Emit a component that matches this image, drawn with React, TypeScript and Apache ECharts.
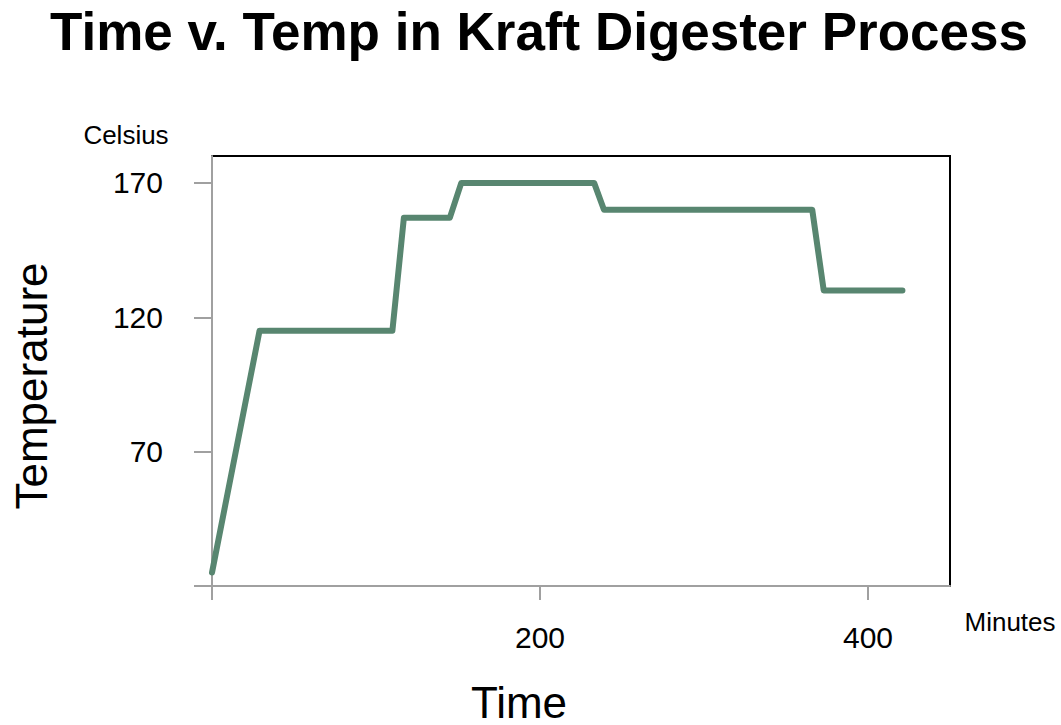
import React, { useEffect, useRef } from "react";
import * as echarts from "echarts";

const minutes = [0, 29, 110, 117, 145, 152, 233, 239, 366, 373, 421];
const celsius = [25, 115, 115, 157, 157, 170, 170, 160, 160, 130, 130];
const xTicks = [0, 200, 400];
const xLabels = [200, 400];
const yTicks = [20, 70, 120, 170];
const yLabels = [70, 120, 170];

const FONT = "'Liberation Sans', Arial, sans-serif";

export default function App() {
  const ref = useRef<HTMLDivElement>(null);
  useEffect(() => {
    const chart = echarts.init(ref.current!, null, { renderer: "svg" });
    const data = minutes.map((m, i) => [m, celsius[i]]);
    chart.setOption({
      animation: false,
      backgroundColor: "#ffffff",
      textStyle: { fontFamily: FONT },
      title: {
        text: "Time v. Temp in Kraft Digester Process",
        left: 534,
        textAlign: "center",
        top: 0,
        textStyle: { fontFamily: FONT, fontSize: 53, fontWeight: "bold", color: "#000" },
      },
      grid: {
        left: 212,
        top: 156,
        width: 738,
        height: 430,
        show: true,
        borderColor: "#000",
        borderWidth: 2,
        backgroundColor: "transparent",
      },
      xAxis: {
        type: "value",
        min: 0,
        max: 450,
        axisLine: { show: true, onZero: false, lineStyle: { color: "#a0a0a0", width: 2 } },
        axisTick: { show: true, length: 14, customValues: xTicks, lineStyle: { color: "#a0a0a0", width: 2 } },
        axisLabel: { customValues: xLabels, margin: 36, fontSize: 30, color: "#000", fontFamily: FONT },
        splitLine: { show: false },
      },
      yAxis: {
        type: "value",
        min: 20,
        max: 180,
        axisLine: { show: true, onZero: false, lineStyle: { color: "#a0a0a0", width: 2 } },
        axisTick: { show: true, length: 18, customValues: yTicks, lineStyle: { color: "#a0a0a0", width: 2 } },
        axisLabel: { customValues: yLabels, margin: 49, fontSize: 30, color: "#000", fontFamily: FONT },
        splitLine: { show: false },
      },
      graphic: [
        {
          type: "text",
          x: 126,
          y: 135,
          style: { text: "Celsius", font: `26px ${FONT}`, fill: "#000", textAlign: "center", textVerticalAlign: "middle" },
        },
        {
          type: "text",
          x: 1010,
          y: 622,
          style: { text: "Minutes", font: `26px ${FONT}`, fill: "#000", textAlign: "center", textVerticalAlign: "middle" },
        },
        {
          type: "text",
          x: 519,
          y: 702,
          style: { text: "Time", font: `44px ${FONT}`, fill: "#000", textAlign: "center", textVerticalAlign: "middle" },
        },
        {
          type: "text",
          x: 31,
          y: 386,
          rotation: Math.PI / 2,
          style: { text: "Temperature", font: `44px ${FONT}`, fill: "#000", textAlign: "center", textVerticalAlign: "middle" },
        },
      ],
      series: [
        {
          type: "line",
          data,
          showSymbol: false,
          symbol: "none",
          lineStyle: { color: "#588670", width: 6, join: "round", cap: "round" },
        },
      ],
    });
    return () => chart.dispose();
  }, []);
  return (
    <div
      ref={ref}
      style={{ position: "absolute", left: 0, top: 0, width: 1061, height: 725 }}
    />
  );
}
